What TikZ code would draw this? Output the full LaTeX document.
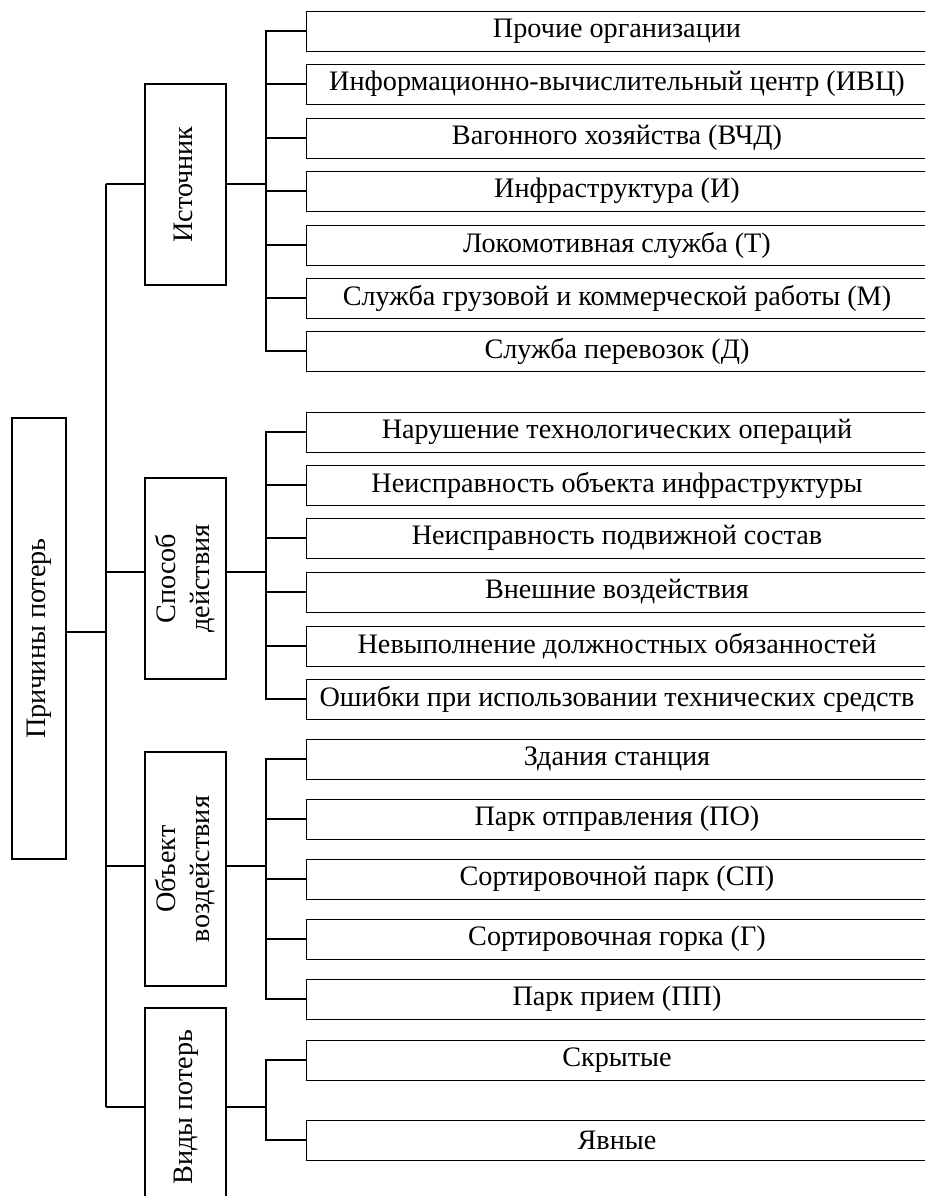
\documentclass[tikz,border=0pt]{standalone}
\usepackage{fontspec}
\setmainfont{Liberation Serif}
\usepackage{graphicx}
\usetikzlibrary{positioning}
\newcommand{\vtext}[1]{\rotatebox{90}{\begin{tabular}{@{}c@{}}#1\end{tabular}}}

\begin{document}
\begin{tikzpicture}
      [x=0.5pt, y=-0.5pt,
      font=\fontsize{14.1}{17}\selectfont,
      link/.style={draw, line width=0.65pt},
      main box/.style={draw, line width=1pt, inner sep=0pt, align=center},
      group box/.style={main box, minimum width=40.5pt},
      leaf box/.style={draw, line width=0.5pt, inner sep=0pt, minimum width=311pt, minimum height=20pt}
      ]
    \path[use as bounding box, clip] (0,0) rectangle (925,1196);

    % root and groups
    \node[main box, minimum width=27pt, minimum height=220.5pt] (root) at (39,638.5) {\vtext{Причины потерь}};
    \node[group box, minimum height=100.5pt] (ist) at (185.5,184.5) {\vtext{Источник}};
    \node[group box, minimum height=100.5pt] (spos) at (185.5,578.5) {\vtext{Способ\\действия}};
    \node[group box, minimum height=117pt] (obj) at (185.5,869) {\vtext{Объект\\воздействия}};
    \node[group box, minimum height=99pt] (vid) at (185.5,1107) {\vtext{Виды потерь}};

    % source
    \node[leaf box] (s1) at (617,31) {Прочие организации};
    \node[leaf box] (s2) at (617,84) {Информационно-вычислительный центр (ИВЦ)};
    \node[leaf box] (s3) at (617,138) {Вагонного хозяйства (ВЧД)};
    \node[leaf box] (s4) at (617,191) {Инфраструктура (И)};
    \node[leaf box] (s5) at (617,245) {Локомотивная служба (Т)};
    \node[leaf box] (s6) at (617,298) {Служба грузовой и коммерческой работы (М)};
    \node[leaf box] (s7) at (617,351) {Служба перевозок (Д)};

    % way of action
    \node[leaf box] (a1) at (617,432) {Нарушение технологических операций};
    \node[leaf box] (a2) at (617,485) {Неисправность объекта инфраструктуры};
    \node[leaf box] (a3) at (617,538) {Неисправность подвижной состав};
    \node[leaf box] (a4) at (617,592) {Внешние воздействия};
    \node[leaf box] (a5) at (617,646) {Невыполнение должностных обязанностей};
    \node[leaf box] (a6) at (617,699) {Ошибки при использовании технических средств};

    % object
    \node[leaf box] (o1) at (617,759) {Здания станция};
    \node[leaf box] (o2) at (617,819) {Парк отправления (ПО)};
    \node[leaf box] (o3) at (617,879) {Сортировочной парк (СП)};
    \node[leaf box] (o4) at (617,939) {Сортировочная горка (Г)};
    \node[leaf box] (o5) at (617,999) {Парк прием (ПП)};

    % kinds
    \node[leaf box] (v1) at (617,1060) {Скрытые};
    \node[leaf box] (v2) at (617,1140) {Явные};

    % junctions
    \coordinate (j0) at (106,632);
    \coordinate (j1) at (106,184);
    \coordinate (j2) at (106,572);
    \coordinate (j3) at (106,866);
    \coordinate (j4) at (106,1107);
    \coordinate (k1) at (266,184);
    \coordinate (k2) at (266,572);
    \coordinate (k3) at (266,866);
    \coordinate (k4) at (266,1107);

    \draw[link] (root.east |- j0) -- (j0) (j1) -- (j4)
      (j1) -- (j1 -| ist.west) (j2) -- (j2 -| spos.west)
      (j3) -- (j3 -| obj.west) (j4) -- (j4 -| vid.west);

    \draw[link] (ist.east |- k1) -- (k1)
      (k1) |- (s1.west) (k1) |- (s2.west) (k1) |- (s3.west) (k1) |- (s4.west)
      (k1) |- (s5.west) (k1) |- (s6.west) (k1) |- (s7.west);
    \draw[link] (spos.east |- k2) -- (k2)
      (k2) |- (a1.west) (k2) |- (a2.west) (k2) |- (a3.west)
      (k2) |- (a4.west) (k2) |- (a5.west) (k2) |- (a6.west);
    \draw[link] (obj.east |- k3) -- (k3)
      (k3) |- (o1.west) (k3) |- (o2.west) (k3) |- (o3.west)
      (k3) |- (o4.west) (k3) |- (o5.west);
    \draw[link] (vid.east |- k4) -- (k4)
      (k4) |- (v1.west) (k4) |- (v2.west);
\end{tikzpicture}
\end{document}
